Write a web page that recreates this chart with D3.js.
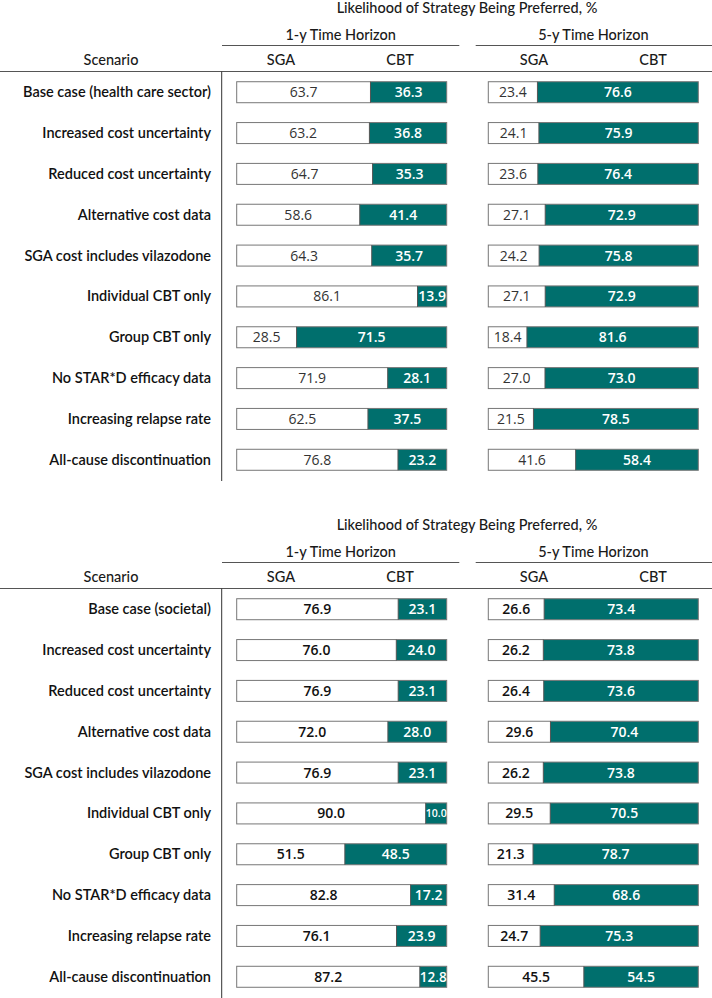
<!DOCTYPE html>
<html>
<head>
<meta charset="utf-8">
<script src="https://cdn.jsdelivr.net/npm/d3@7"></script>
<style>
  html, body { margin: 0; padding: 0; background: #fff; }
  svg { display: block; }
</style>
</head>
<body>
<svg id="chart" width="712" height="998"></svg>
<script>
// ---------- DATA ----------
const scenariosHealth = [
  "Base case (health care sector)",
  "Increased cost uncertainty",
  "Reduced cost uncertainty",
  "Alternative cost data",
  "SGA cost includes vilazodone",
  "Individual CBT only",
  "Group CBT only",
  "No STAR*D efficacy data",
  "Increasing relapse rate",
  "All-cause discontinuation"
];
const scenariosSocietal = [
  "Base case (societal)",
  "Increased cost uncertainty",
  "Reduced cost uncertainty",
  "Alternative cost data",
  "SGA cost includes vilazodone",
  "Individual CBT only",
  "Group CBT only",
  "No STAR*D efficacy data",
  "Increasing relapse rate",
  "All-cause discontinuation"
];
const health1ySGA = [63.7, 63.2, 64.7, 58.6, 64.3, 86.1, 28.5, 71.9, 62.5, 76.8];
const health1yCBT = [36.3, 36.8, 35.3, 41.4, 35.7, 13.9, 71.5, 28.1, 37.5, 23.2];
const health5ySGA = [23.4, 24.1, 23.6, 27.1, 24.2, 27.1, 18.4, 27.0, 21.5, 41.6];
const health5yCBT = [76.6, 75.9, 76.4, 72.9, 75.8, 72.9, 81.6, 73.0, 78.5, 58.4];
const societal1ySGA = [76.9, 76.0, 76.9, 72.0, 76.9, 90.0, 51.5, 82.8, 76.1, 87.2];
const societal1yCBT = [23.1, 24.0, 23.1, 28.0, 23.1, 10.0, 48.5, 17.2, 23.9, 12.8];
const societal5ySGA = [26.6, 26.2, 26.4, 29.6, 26.2, 29.5, 21.3, 31.4, 24.7, 45.5];
const societal5yCBT = [73.4, 73.8, 73.6, 70.4, 73.8, 70.5, 78.7, 68.6, 75.3, 54.5];
const titleText = "Likelihood of Strategy Being Preferred, %";
const horizonLabels = ["1-y Time Horizon", "5-y Time Horizon"];
const strategyLabels = ["SGA", "CBT"];
const scenarioHeader = "Scenario";

// ---------- STYLE ----------
const TEAL = "#006f6d";
const HEAD_FONT = "Lato, 'Open Sans', sans-serif";
const NUM_FONT = "'Open Sans', 'DejaVu Sans', sans-serif";
const NUM_SIZE = 14;

const svg = d3.select("#chart");

const panels = [
  { top: 0, scen: scenariosHealth, series: [[health1ySGA, health1yCBT], [health5ySGA, health5yCBT]], bold: false, vEnd: 481 },
  { top: 517, scen: scenariosSocietal, series: [[societal1ySGA, societal1yCBT], [societal5ySGA, societal5yCBT]], bold: true, vEnd: 998 }
];

const barX = [236.7, 488.3];
const barW = 210;
const x = d3.scaleLinear().domain([0, 100]).range([0, barW]);

panels.forEach(p => {
  const g = svg.append("g").attr("transform", `translate(0,${p.top})`);

  // title
  g.append("text").attr("x", 467).attr("y", 13)
    .attr("text-anchor", "middle").attr("font-family", HEAD_FONT)
    .attr("font-size", 14.5).attr("font-weight", 500).attr("fill", "#1a1a1a").text(titleText);

  // horizon headers + rules
  const ruleSpans = [[222, 459.3], [475.7, 712]];
  ruleSpans.forEach((s, i) => {
    g.append("text").attr("x", (s[0] + s[1]) / 2 + (i === 1 ? -0.5 : 0)).attr("y", 40)
      .attr("text-anchor", "middle").attr("font-family", HEAD_FONT)
      .attr("font-size", 14.5).attr("font-weight", 500).attr("fill", "#1a1a1a").text(horizonLabels[i]);
    g.append("line").attr("x1", s[0]).attr("x2", s[1]).attr("y1", 45.5).attr("y2", 45.5)
      .attr("stroke", "#555").attr("stroke-width", 1);
  });

  // sub headers
  const subX = [[281, 400], [534, 653]];
  subX.forEach(pair => pair.forEach((cx, j) => {
    g.append("text").attr("x", cx).attr("y", 64.5)
      .attr("text-anchor", "middle").attr("font-family", HEAD_FONT)
      .attr("font-size", 14.5).attr("font-weight", 500).attr("fill", "#1a1a1a").text(strategyLabels[j]);
  }));
  g.append("text").attr("x", 111).attr("y", 64.5)
    .attr("text-anchor", "middle").attr("font-family", HEAD_FONT)
    .attr("font-size", 14.5).attr("font-weight", 500).attr("fill", "#1a1a1a").text(scenarioHeader);

  // top rule & vertical divider
  g.append("line").attr("x1", 0).attr("x2", 712).attr("y1", 71.5).attr("y2", 71.5)
    .attr("stroke", "#555").attr("stroke-width", 1);
  g.append("line").attr("x1", 221.7).attr("x2", 221.7).attr("y1", 71.5).attr("y2", p.vEnd - p.top)
    .attr("stroke", "#333").attr("stroke-width", 1);

  const y = d3.scaleBand().domain(p.scen).range([71.8, 71.8 + 408.4])
    .paddingInner(0.486).paddingOuter(0.243);

  // row labels
  g.selectAll("text.row").data(p.scen).join("text")
    .attr("class", "row")
    .attr("x", 211).attr("y", d => y(d) + y.bandwidth() / 2 + 5)
    .attr("text-anchor", "end").attr("font-family", HEAD_FONT)
    .attr("font-size", 14.5).attr("font-weight", 600).attr("fill", "#111").text(d => d);

  p.series.forEach((pair, h) => {
    const sga = pair[0], cbt = pair[1];
    const rows = p.scen.map((s, i) => ({ s, sga: sga[i], cbt: cbt[i] }));
    const hg = g.append("g").attr("transform", `translate(${barX[h]},0)`);

    // SGA segments (white)
    hg.selectAll("rect.sga").data(rows).join("rect")
      .attr("class", "sga")
      .attr("x", 0).attr("y", d => y(d.s))
      .attr("width", d => x(d.sga)).attr("height", y.bandwidth())
      .attr("fill", "#fff");
    // CBT segments (teal)
    hg.selectAll("rect.cbt").data(rows).join("rect")
      .attr("class", "cbt")
      .attr("x", d => x(d.sga)).attr("y", d => y(d.s))
      .attr("width", d => x(d.cbt)).attr("height", y.bandwidth())
      .attr("fill", TEAL);
    // outline
    hg.selectAll("rect.outline").data(rows).join("rect")
      .attr("class", "outline")
      .attr("x", 0).attr("y", d => y(d.s))
      .attr("width", d => x(d.sga + d.cbt)).attr("height", y.bandwidth())
      .attr("fill", "none").attr("stroke", "#777").attr("stroke-width", 1);
    hg.selectAll("line.sep").data(rows).join("line")
      .attr("class", "sep")
      .attr("x1", d => x(d.sga)).attr("x2", d => x(d.sga))
      .attr("y1", d => y(d.s)).attr("y2", d => y(d.s) + y.bandwidth())
      .attr("stroke", "#555").attr("stroke-width", 1);

    // labels
    hg.selectAll("text.sgaL").data(rows).join("text")
      .attr("class", "sgaL")
      .attr("x", d => x(d.sga) / 2).attr("y", d => y(d.s) + y.bandwidth() / 2 + 5)
      .attr("text-anchor", "middle").attr("font-family", NUM_FONT)
      .attr("font-size", NUM_SIZE).attr("font-weight", p.bold ? 600 : 400)
      .attr("fill", p.bold ? "#111" : "#333")
      .text(d => d.sga.toFixed(1));
    hg.selectAll("text.cbtL").data(rows).join("text")
      .attr("class", "cbtL")
      .attr("x", d => x(d.sga) + x(d.cbt) / 2).attr("y", d => y(d.s) + y.bandwidth() / 2 + 5)
      .attr("text-anchor", "middle").attr("font-family", NUM_FONT)
      .attr("font-size", NUM_SIZE).attr("font-weight", 600)
      .attr("fill", "#fff")
      .text(d => d.cbt.toFixed(1))
      .each(function(d) {
        const avail = x(d.cbt);
        const w = this.getComputedTextLength();
        if (w > avail) {
          const fs = Math.max(8, NUM_SIZE * avail / w);
          d3.select(this).attr("font-size", fs).attr("y", y(d.s) + y.bandwidth() / 2 + fs * 0.36);
        }
      });
  });
});
</script>
</body>
</html>
